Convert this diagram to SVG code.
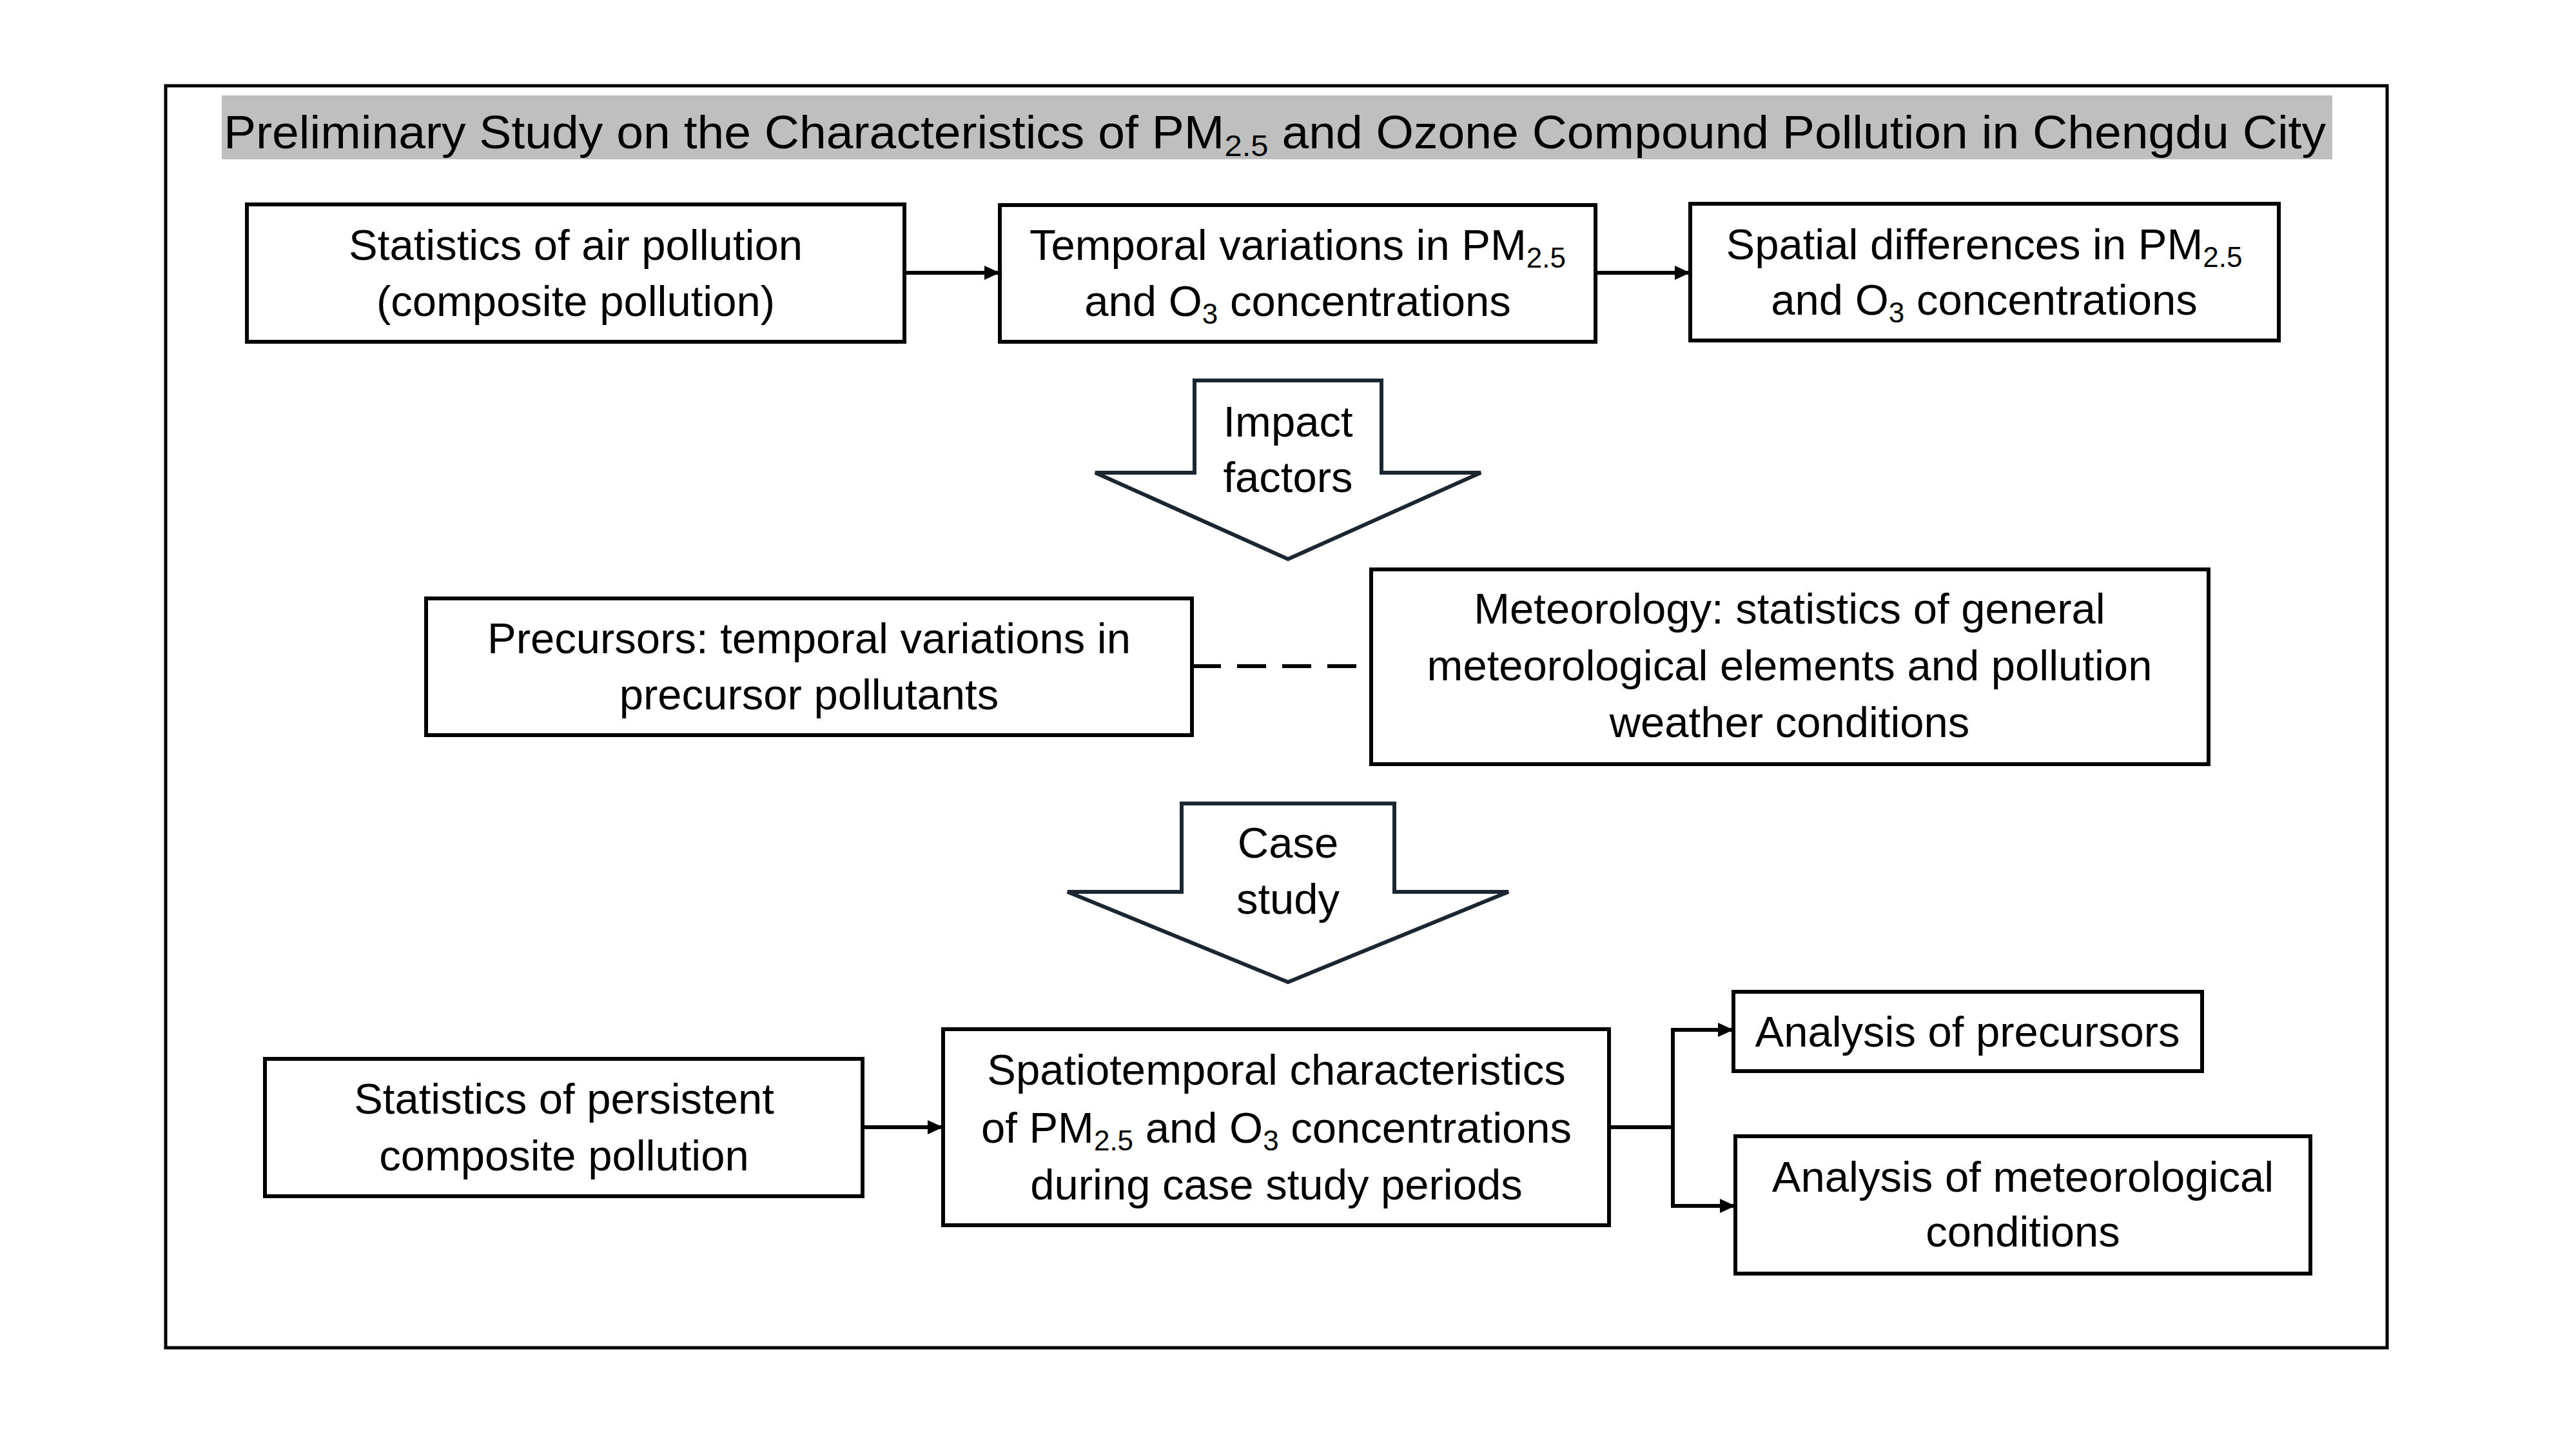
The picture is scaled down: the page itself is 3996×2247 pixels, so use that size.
<svg xmlns="http://www.w3.org/2000/svg" width="3996" height="2247" viewBox="0 0 3996 2247">
<style>
.box{fill:#ffffff;stroke:#000000;stroke-width:6}
.blk{fill:#ffffff;stroke:#1b2631;stroke-width:6;stroke-linejoin:miter}
.t{font-family:"Liberation Sans",Arial,sans-serif;font-size:67px;fill:#000000;text-anchor:middle}
.sub{font-size:44px}
.con{fill:none;stroke:#000000;stroke-width:6}
</style>
<defs>
<marker id="ah" markerUnits="userSpaceOnUse" markerWidth="26" markerHeight="24" refX="24" refY="11" orient="auto">
<path d="M0,0 L24,11 L0,22 z" fill="#000000"/>
</marker>
</defs>
<rect x="0" y="0" width="3996" height="2247" fill="#ffffff"/>
<g id="frame">
<rect x="257" y="133" width="3446" height="1957" fill="none" stroke="#000000" stroke-width="5"/>
</g>
<g id="title">
<rect x="344" y="148" width="3274" height="99" fill="#bfbfbf"/>
<text x="347" y="230" font-family="Liberation Sans, Arial, sans-serif" font-size="72" textLength="3261" lengthAdjust="spacingAndGlyphs">Preliminary Study on the Characteristics of PM<tspan font-size="47" dy="12">2.5</tspan><tspan dy="-12"> and Ozone Compound Pollution in Chengdu City</tspan></text>
</g>
<g id="connectors">
<line class="con" x1="1403" y1="423" x2="1551" y2="423" marker-end="url(#ah)"/>
<line class="con" x1="2475" y1="423" x2="2622" y2="423" marker-end="url(#ah)"/>
<line class="con" x1="1849" y1="1033" x2="2127" y2="1033" stroke-dasharray="45,25"/>
<line class="con" x1="1338" y1="1748" x2="1463" y2="1748" stroke-width="4" marker-end="url(#ah)"/>
<path class="con" d="M2496,1748 H2595 M2595,1597 V1870"/>
<path class="con" d="M2592,1597 H2689" marker-end="url(#ah)"/>
<path class="con" d="M2592,1870 H2692" marker-end="url(#ah)"/>
</g>
<g id="node-air-pollution">
<rect class="box" x="383" y="317" width="1020" height="213"/>
<text class="t" x="893" y="403">Statistics of air pollution</text>
<text class="t" x="893" y="490">(composite pollution)</text>
</g>
<g id="node-temporal">
<rect class="box" x="1551" y="318" width="924" height="212"/>
<text class="t" x="2013" y="403">Temporal variations in PM<tspan class="sub" dy="12">2.5</tspan></text>
<text class="t" x="2013" y="490">and O<tspan class="sub" dy="12">3</tspan><tspan dy="-12"> concentrations</tspan></text>
</g>
<g id="node-spatial">
<rect class="box" x="2622" y="316" width="913" height="212"/>
<text class="t" x="3078" y="402">Spatial differences in PM<tspan class="sub" dy="12">2.5</tspan></text>
<text class="t" x="3078" y="488">and O<tspan class="sub" dy="12">3</tspan><tspan dy="-12"> concentrations</tspan></text>
</g>
<g id="node-impact-factors">
<polygon class="blk" points="1853,590 2143,590 2143,733 2297,733 1998,867 1699,733 1853,733"/>
<text class="t" x="1998" y="677">Impact</text>
<text class="t" x="1998" y="763">factors</text>
</g>
<g id="node-precursors">
<rect class="box" x="661" y="928" width="1188" height="212"/>
<text class="t" x="1255" y="1013">Precursors: temporal variations in</text>
<text class="t" x="1255" y="1100">precursor pollutants</text>
</g>
<g id="node-meteorology">
<rect class="box" x="2127" y="883" width="1299" height="302"/>
<text class="t" x="2776" y="967">Meteorology: statistics of general</text>
<text class="t" x="2776" y="1055">meteorological elements and pollution</text>
<text class="t" x="2776" y="1143">weather conditions</text>
</g>
<g id="node-case-study">
<polygon class="blk" points="1833,1246 2163,1246 2163,1383 2340,1383 1998,1523 1656,1383 1833,1383"/>
<text class="t" x="1998" y="1330">Case</text>
<text class="t" x="1998" y="1417">study</text>
</g>
<g id="node-persistent">
<rect class="box" x="411" y="1642" width="927" height="213"/>
<text class="t" x="875" y="1727">Statistics of persistent</text>
<text class="t" x="875" y="1815">composite pollution</text>
</g>
<g id="node-spatiotemporal">
<rect class="box" x="1463" y="1596" width="1033" height="304"/>
<text class="t" x="1980" y="1682">Spatiotemporal characteristics</text>
<text class="t" x="1980" y="1772">of PM<tspan class="sub" dy="12">2.5</tspan><tspan dy="-12"> and O</tspan><tspan class="sub" dy="12">3</tspan><tspan dy="-12"> concentrations</tspan></text>
<text class="t" x="1980" y="1860">during case study periods</text>
</g>
<g id="node-analysis-precursors">
<rect class="box" x="2689" y="1538" width="727" height="123"/>
<text class="t" x="3052" y="1623">Analysis of precursors</text>
</g>
<g id="node-analysis-meteorological">
<rect class="box" x="2692" y="1762" width="892" height="213"/>
<text class="t" x="3138" y="1848">Analysis of meteorological</text>
<text class="t" x="3138" y="1933">conditions</text>
</g>
</svg>
